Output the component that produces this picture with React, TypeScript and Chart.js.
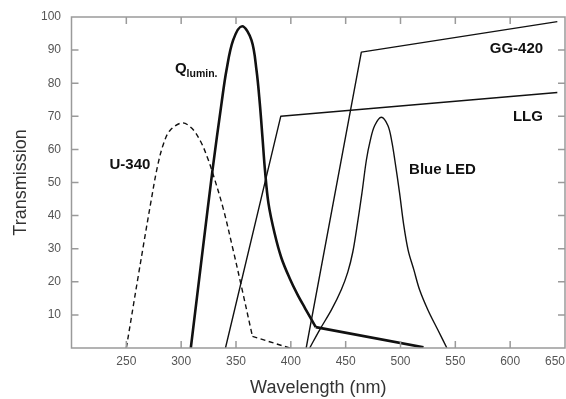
import React, { useEffect, useRef } from "react";
import { Chart, registerables } from "chart.js";

Chart.register(...registerables);

// ---- data (wavelength nm, transmission %) ----
const xTicks = [200, 250, 300, 350, 400, 450, 500, 550, 600, 650];
const yTicks = [0, 10, 20, 30, 40, 50, 60, 70, 80, 90, 100];

const u340Curve: [number, number][] = [
  [250, 0], [261, 22], [272.7, 44.7], [278.5, 55], [284, 61.8], [290, 65.8],
  [301, 68], [310, 66.3], [317.9, 62.3], [324, 57.5], [329.1, 52.5],
  [338.3, 42.2], [347.4, 29.6], [355, 18.5], [365, 3.5],
];
const u340Tail: [number, number][] = [[365, 3.5], [399, 0]];

const qLuminCurve: [number, number][] = [
  [308.8, 0], [320, 30.6], [328.6, 53.8], [336.8, 73.9], [341.3, 83.9],
  [347.4, 93], [355.6, 97.2], [364.1, 93], [368.7, 83.9], [371.7, 73.9],
  [374.1, 63.8], [376.4, 53.8], [379.6, 43.7], [385.3, 34.5], [391.4, 27.2],
  [399, 21], [406, 16.2], [413, 12], [422.7, 6.3],
];
const qLuminTail: [number, number][] = [[422.7, 6.3], [521, 0.2]];

const llgLine: [number, number][] = [[340.4, 0], [390.8, 70], [643, 77.2]];
const gg420Line: [number, number][] = [[414, 0], [464.3, 89.4], [643, 98.6]];

const blueLed: [number, number][] = [
  [417.2, 0], [426.3, 5.5], [437, 11.5], [446, 17.6], [452, 23], [456.5, 29],
  [460, 36], [464.8, 46.7], [468.9, 56.8], [472.5, 62.8], [476.5, 67.2],
  [482.5, 69.7], [488.5, 67.2], [492, 62.5], [494.8, 56.8], [499.2, 46.7],
  [502.8, 37.5], [507, 29.5], [512.2, 23.6], [517.4, 17.6], [525, 11.5],
  [534, 5.5], [542.3, 0],
];

const seriesLabels = [
  { text: "U-340", x: 253.3, y: 55.2 },
  { text: "GG-420", x: 605.7, y: 90.3 },
  { text: "LLG", x: 616.2, y: 69.8 },
  { text: "Blue LED", x: 538.2, y: 53.7 },
];
const qLabel = { main: "Q", sub: "lumin.", x: 294.3, y: 84.2 };

const xTitle = "Wavelength (nm)";
const yTitle = "Transmission";

const FONT = "'Liberation Sans', Arial, Helvetica, sans-serif";
const AXIS_COLOR = "#9a9a9a";
const TICK_COLOR = "#555";
const INK = "#111";

const toPts = (arr: [number, number][]) => arr.map(([x, y]) => ({ x, y }));

const frame = {
  id: "frame",
  afterDraw(chart: any) {
    const { ctx, chartArea: a, scales } = chart;
    ctx.save();
    ctx.strokeStyle = AXIS_COLOR;
    ctx.lineWidth = 1.5;
    ctx.strokeRect(a.left, a.top, a.right - a.left, a.bottom - a.top);
    const L = 7;
    ctx.beginPath();
    xTicks.forEach((v) => {
      if (v <= 200 || v >= 650) return;
      const px = scales.x.getPixelForValue(v);
      ctx.moveTo(px, a.bottom);
      ctx.lineTo(px, a.bottom - L);
      ctx.moveTo(px, a.top);
      ctx.lineTo(px, a.top + L);
    });
    yTicks.forEach((v) => {
      if (v <= 0 || v >= 100) return;
      const py = scales.y.getPixelForValue(v);
      ctx.moveTo(a.left, py);
      ctx.lineTo(a.left + L, py);
      ctx.moveTo(a.right, py);
      ctx.lineTo(a.right - L, py);
    });
    ctx.stroke();

    // series labels
    ctx.fillStyle = INK;
    ctx.textBaseline = "middle";
    ctx.textAlign = "center";
    ctx.font = `bold 15px ${FONT}`;
    seriesLabels.forEach((l) => {
      ctx.fillText(l.text, scales.x.getPixelForValue(l.x), scales.y.getPixelForValue(l.y));
    });
    const qx = scales.x.getPixelForValue(qLabel.x);
    const qy = scales.y.getPixelForValue(qLabel.y);
    ctx.textAlign = "left";
    ctx.font = `bold 15px ${FONT}`;
    ctx.fillText(qLabel.main, qx, qy);
    const qw = ctx.measureText(qLabel.main).width;
    ctx.font = `bold 10.5px ${FONT}`;
    ctx.fillText(qLabel.sub, qx + qw, qy + 5);
    ctx.restore();
  },
};

export default function App() {
  const ref = useRef<HTMLCanvasElement | null>(null);
  useEffect(() => {
    document.body.style.margin = "0";
    document.body.style.overflow = "hidden";
    const thin = { borderColor: INK, borderWidth: 1.4, pointRadius: 0, fill: false };
    const chart = new Chart(ref.current as HTMLCanvasElement, {
      type: "line",
      data: {
        datasets: [
          { ...thin, data: toPts(u340Curve), borderDash: [5, 3.5], tension: 0.35 },
          { ...thin, data: toPts(u340Tail), borderDash: [5, 3.5], tension: 0 },
          { ...thin, data: toPts(qLuminCurve), borderWidth: 2.6, tension: 0.35 },
          { ...thin, data: toPts(qLuminTail), borderWidth: 2.6, tension: 0 },
          { ...thin, data: toPts(llgLine), tension: 0 },
          { ...thin, data: toPts(gg420Line), tension: 0 },
          { ...thin, data: toPts(blueLed), tension: 0.35 },
        ] as any,
      },
      options: {
        animation: false,
        responsive: false,
        layout: { padding: { top: 17, right: 1, left: 0, bottom: 0 } },
        plugins: { legend: { display: false }, tooltip: { enabled: false } },
        elements: { line: { borderCapStyle: "butt", borderJoinStyle: "round" } },
        scales: {
          x: {
            type: "linear",
            min: 200,
            max: 650,
            afterBuildTicks: (s: any) => { s.ticks = xTicks.map((v) => ({ value: v })); },
            afterFit: (s: any) => { s.height = 51; s.paddingLeft = 0; s.paddingRight = 0; },
            ticks: {
              autoSkip: false,
              maxRotation: 0,
              align: "inner",
              padding: 6,
              color: TICK_COLOR,
              font: { family: FONT, size: 12 },
              callback: (v: any) => (v === 200 ? "" : String(v)),
            },
            grid: { display: true, drawOnChartArea: false, drawTicks: false },
            border: { display: false },
            title: {
              display: true,
              text: xTitle,
              color: "#333",
              font: { family: FONT, size: 18 },
              padding: { top: 0, bottom: 0 },
            },
          },
          y: {
            type: "linear",
            min: 0,
            max: 100,
            afterBuildTicks: (s: any) => { s.ticks = yTicks.map((v) => ({ value: v })); },
            afterFit: (s: any) => { s.width = 71.5; s.paddingTop = 0; s.paddingBottom = 0; },
            ticks: {
              autoSkip: false,
              padding: 10.5,
              color: TICK_COLOR,
              font: { family: FONT, size: 12 },
              callback: (v: any) => (v === 0 ? "" : String(v)),
            },
            grid: { display: true, drawOnChartArea: false, drawTicks: false },
            border: { display: false },
            title: {
              display: true,
              text: yTitle,
              color: "#333",
              font: { family: FONT, size: 18 },
              padding: { top: 10, bottom: 0 },
            },
          },
        },
      } as any,
      plugins: [frame],
    });
    return () => chart.destroy();
  }, []);
  return (
    <div style={{ width: 566, height: 399 }}>
      <canvas ref={ref} width={566} height={399} style={{ display: "block" }} />
    </div>
  );
}
